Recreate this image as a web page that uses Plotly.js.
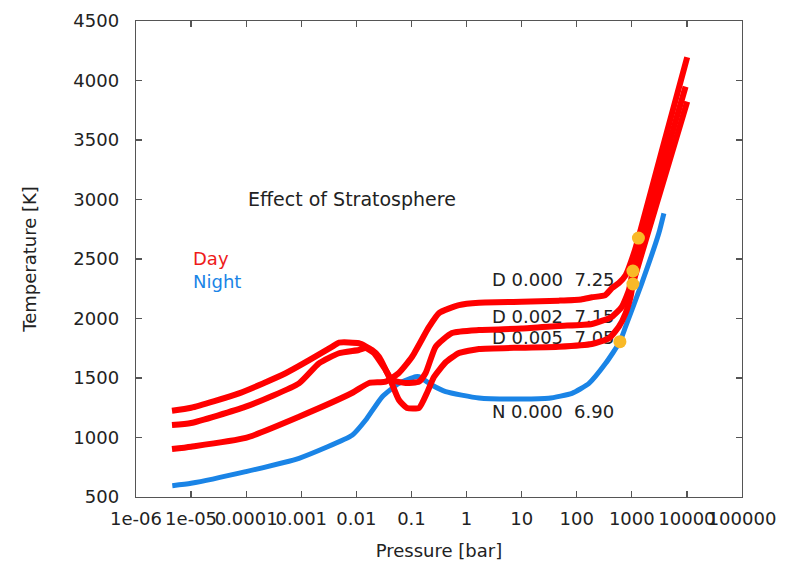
<!DOCTYPE html>
<html>
<head>
<meta charset="utf-8">
<script src="https://cdn.plot.ly/plotly-3.0.1.min.js"></script>
<style>html,body{margin:0;padding:0;background:#fff;}#chart{width:790px;height:562px;}</style>
</head>
<body>
<div id="chart"></div>
<script>
// ---- data (pressure in bar, temperature in K) ----
const dayP0 = [4.5e-6, 1.0e-5, 9.8e-5, 9.1e-4, 8.3e-3, 0.017, 0.034, 0.059, 0.102, 0.208, 0.316, 0.728, 1.68, 10, 47.5, 120, 189, 331, 437, 583, 776, 1096, 1318, 3664, 10120];
const dayT0 = [903, 923, 996, 1175, 1374, 1458, 1469, 1542, 1676, 1929, 2046, 2113, 2133, 2140, 2150, 2160, 2178, 2197, 2256, 2298, 2366, 2550, 2676, 3441, 4195];

const dayP2 = [4.5e-6, 1.0e-5, 9.8e-5, 9.1e-4, 2.09e-3, 4.83e-3, 0.0111, 0.0148, 0.0209, 0.034, 0.0443, 0.0785, 0.137, 0.181, 0.275, 0.543, 1.68, 10, 47.5, 189, 437, 661, 885, 1047, 3105, 9460];
const dayT2 = [1105, 1122, 1259, 1455, 1623, 1708, 1735, 1752, 1710, 1567, 1483, 1458, 1469, 1542, 1763, 1878, 1903, 1915, 1937, 1954, 2015, 2099, 2239, 2399, 3172, 3948];

const dayP5 = [4.5e-6, 1.0e-5, 7.4e-5, 5.2e-4, 3.66e-3, 4.83e-3, 0.0111, 0.0192, 0.0257, 0.0391, 0.0593, 0.0828, 0.137, 0.191, 0.256, 0.423, 0.728, 1.68, 10, 47.5, 189, 385, 583, 771, 949, 1047, 3236, 10120];
const dayT5 = [1225, 1250, 1371, 1540, 1763, 1797, 1792, 1735, 1679, 1511, 1315, 1248, 1248, 1374, 1508, 1634, 1710, 1744, 1755, 1763, 1786, 1834, 1931, 2044, 2183, 2290, 3055, 3822];

const nightP = [4.56e-6, 1.0e-5, 9.8e-5, 9.1e-4, 8.5e-3, 0.0148, 0.0295, 0.0593, 0.119, 0.137, 0.234, 0.418, 1.68, 10, 31, 82, 167, 335, 608, 771, 1514, 3090, 3820];
const nightT = [595, 615, 713, 825, 1021, 1147, 1343, 1455, 1511, 1511, 1441, 1385, 1332, 1323, 1329, 1371, 1455, 1623, 1805, 1931, 2296, 2716, 2884];

const markP = [1318, 1047, 1047, 608];
const markT = [2676, 2399, 2290, 1805];

const curveLabels = ["D 0.000\u00a0\u00a07.25", "D 0.002\u00a0\u00a07.15", "D 0.005\u00a0\u00a07.05", "N 0.000\u00a0\u00a06.90"];
const curveLabelT = [2307, 2000, 1824, 1202];

const xTickVals = [1e-6, 1e-5, 1e-4, 1e-3, 1e-2, 1e-1, 1, 10, 100, 1000, 10000, 100000];
const xTickText = ["1e-06", "1e-05", "0.0001", "0.001", "0.01", "0.1", "1", "10", "100", "1000", "10000", "100000"];
const yTickVals = [500, 1000, 1500, 2000, 2500, 3000, 3500, 4000, 4500];

// ---- styles ----
const RED = '#ff0000';
const BLUE = '#1a84e6';
const GOLD = '#f9b927';
const TXT = '#222222';
const FONT = 'DejaVu Sans, sans-serif';

const lineShape = {shape: 'spline', smoothing: 0.5};

const traces = [
  { x: curveLabels.map(() => 2.89), y: curveLabelT, text: curveLabels, mode: 'text',
    textposition: 'middle right', textfont: {family: FONT, size: 18, color: TXT},
    cliponaxis: false, hoverinfo: 'skip', showlegend: false },
  { x: nightP, y: nightT, mode: 'lines', line: Object.assign({color: BLUE, width: 5}, lineShape), showlegend: false },
  { x: dayP0, y: dayT0, mode: 'lines', line: Object.assign({color: RED, width: 6}, lineShape), showlegend: false },
  { x: dayP2, y: dayT2, mode: 'lines', line: Object.assign({color: RED, width: 6}, lineShape), showlegend: false },
  { x: dayP5, y: dayT5, mode: 'lines', line: Object.assign({color: RED, width: 6}, lineShape), showlegend: false },
  { x: markP, y: markT, mode: 'markers', marker: {color: GOLD, size: 13}, showlegend: false }
];

const axisCommon = {
  showline: true, linecolor: '#555', linewidth: 1.3, mirror: 'ticks',
  ticks: 'inside', ticklen: 6, tickcolor: '#555', tickwidth: 1.3,
  showgrid: false, zeroline: false, tickangle: 0,
  tickfont: {family: FONT, size: 18, color: TXT}
};

const layout = {
  width: 790, height: 562,
  margin: {l: 136, r: 48, t: 21, b: 65},
  paper_bgcolor: '#fff', plot_bgcolor: '#fff',
  showlegend: false,
  xaxis: Object.assign({}, axisCommon, {
    type: 'log', range: [-6, 5.0001], tickmode: 'array', tickvals: xTickVals, ticktext: xTickText,
    ticklabelstandoff: 5,
    title: {text: 'Pressure [bar]', font: {family: FONT, size: 18, color: TXT}, standoff: 16}
  }),
  yaxis: Object.assign({}, axisCommon, {
    range: [500, 4500], tickmode: 'array', tickvals: yTickVals,
    ticklabelstandoff: 12,
    title: {text: 'Temperature [K]', font: {family: FONT, size: 18, color: TXT}, standoff: 32}
  }),
  annotations: [
    {x: -4, y: 3004, xref: 'x', yref: 'y', text: 'Effect of Stratosphere', showarrow: false,
     xanchor: 'left', yanchor: 'middle', font: {family: FONT, size: 19, color: TXT}},
    {x: -5.0, y: 2508, xref: 'x', yref: 'y', text: 'Day', showarrow: false,
     xanchor: 'left', yanchor: 'middle', font: {family: FONT, size: 18, color: '#ee1a1a'}},
    {x: -5.0, y: 2311, xref: 'x', yref: 'y', text: 'Night', showarrow: false,
     xanchor: 'left', yanchor: 'middle', font: {family: FONT, size: 18, color: BLUE}}
  ]
};

Plotly.newPlot('chart', traces, layout, {staticPlot: true, displayModeBar: false});
</script>
</body>
</html>
